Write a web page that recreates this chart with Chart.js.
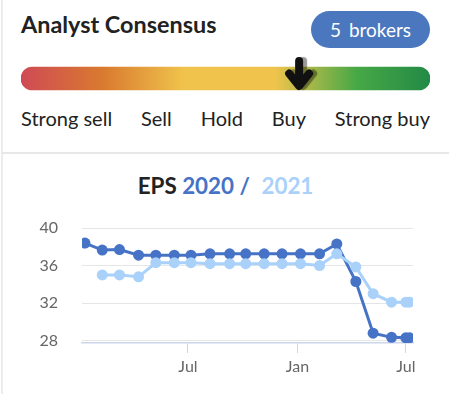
<!DOCTYPE html>
<html>
<head>
<meta charset="utf-8">
<script src="https://cdn.jsdelivr.net/npm/chart.js@4/dist/chart.umd.min.js"></script>
<style>
  body { margin: 0; width: 449px; height: 394px; overflow: hidden; background: #fff; font-family: Lato, sans-serif; color: #222; position: relative; }
  .card { position: absolute; left: 1px; top: 0; width: 470px; height: 394px; border-left: 2px solid #ececec; box-sizing: border-box; }
  .sep { position: absolute; left: 1px; top: 152px; width: 470px; height: 2px; background: #e8e8e8; }
  .head { position: absolute; left: 21px; top: 10px; margin: 0; font-size: 23.4px; font-weight: 700; line-height: 1.2; color: #222; }
  .badge { position: absolute; left: 311px; top: 11px; width: 119px; height: 37px; border-radius: 19px; background: #4b77be; color: #fff; font-size: 19px; line-height: 37px; text-align: center; }
  .badge b { font-weight: 400; margin-right: 8px; }
  #gauge { position: absolute; left: 21px; top: 55px; }
  .labels { position: absolute; left: 21px; top: 106px; width: 409px; display: flex; justify-content: space-between; font-size: 20px; line-height: 24px; color: #222; }
  .title { position: absolute; left: 1px; top: 173px; width: 449px; text-align: center; font-size: 22.4px; font-weight: 700; line-height: 1.2; }
  .title .k { color: #222; }
  .title .a { color: #4673c6; }
  .title .b { color: #a9d1fa; margin-left: 6px; }
  #eps { position: absolute; left: 0; top: 213px; }
</style>
</head>
<body>
<div class="card"></div>
<div class="sep"></div>
<div class="head">Analyst Consensus</div>
<div class="badge" id="badge"></div>
<canvas id="gauge" width="409" height="37"></canvas>
<div class="labels" id="labels"></div>
<div class="title"><span class="k">EPS</span> <span class="a">2020 /</span> <span class="b">2021</span></div>
<canvas id="eps" width="449" height="170"></canvas>

<script>
Chart.defaults.font.family = 'Lato';

// consensus (1 = strong sell, 5 = strong buy)
var consensusLabels = ['Strong sell', 'Sell', 'Hold', 'Buy', 'Strong buy'];
var consensusScore = 3.72;
var brokers = 5;

// EPS estimate history
var dates = ['2019-01-09', '2019-02-07', '2019-03-08', '2019-04-09', '2019-05-08', '2019-06-08',
  '2019-07-06', '2019-08-07', '2019-09-09', '2019-10-06', '2019-11-06', '2019-12-06',
  '2020-01-06', '2020-02-07', '2020-03-07', '2020-04-08', '2020-05-07', '2020-06-07',
  '2020-07-01', '2020-07-07'];
var eps2020 = [38.4, 37.65, 37.7, 37.1, 37.1, 37.1, 37.1, 37.25, 37.25, 37.25, 37.25, 37.25,
  37.25, 37.25, 38.3, 34.3, 28.8, 28.35, 28.3, 28.3];
var eps2021 = [null, 35.0, 35.0, 34.8, 36.3, 36.3, 36.3, 36.2, 36.2, 36.2, 36.2, 36.2,
  36.2, 36.0, 37.25, 35.85, 33.0, 32.1, 32.1, 32.1];
var yTicks = [28, 32, 36, 40];
var xTickDates = ['2019-07-01', '2020-01-01', '2020-07-01'];
var xTickLabels = ['Jul', 'Jan', 'Jul'];

function day(s) {
  return Date.parse(s) / 86400000;
}

// pijl boven de balk
var arrowPlugin = {
  id: 'arrow',
  afterDatasetsDraw: function(chart) {
    var c = chart.ctx;
    var x = chart.scales.x.getPixelForValue(consensusScore);
    c.save();
    c.lineWidth = 8;
    c.lineCap = 'round';
    c.lineJoin = 'round';
    c.strokeStyle = '#111';
    c.shadowColor = 'rgba(0,0,0,0.4)';
    c.shadowOffsetX = 4;
    c.shadowBlur = 1;
    c.beginPath();
    c.moveTo(x, 6);
    c.lineTo(x, 30);
    c.moveTo(x - 10, 18.5);
    c.lineTo(x, 31);
    c.lineTo(x + 10, 18.5);
    c.stroke();
    c.restore();
  }
};

function gauge() {
  var ctx = document.getElementById('gauge');
  new Chart(ctx, {
    type: 'bar',
    data: {
      labels: [''],
      datasets: [{
        data: [[1, 5]],
        backgroundColor: function(c) {
          var a = c.chart.chartArea;
          if (!a) return '#f0c44c';
          var g = c.chart.ctx.createLinearGradient(a.left, 0, a.right, 0);
          g.addColorStop(0, '#cf4a55');
          g.addColorStop(0.2, '#d97a2f');
          g.addColorStop(0.4, '#f0c44c');
          g.addColorStop(0.62, '#f0c44c');
          g.addColorStop(0.82, '#47a846');
          g.addColorStop(1, '#238a46');
          return g;
        },
        borderRadius: 12,
        borderSkipped: false,
        barThickness: 23
      }]
    },
    options: {
      indexAxis: 'y',
      responsive: false,
      animation: false,
      events: [],
      layout: { padding: { top: 10 } },
      scales: {
        x: { display: false, min: 1, max: 5 },
        y: { display: false }
      },
      plugins: { legend: { display: false }, tooltip: { enabled: false } }
    },
    plugins: [arrowPlugin]
  });
}

function eps() {
  var ctx = document.getElementById('eps');
  var xs = dates.map(day);
  new Chart(ctx, {
    type: 'line',
    data: {
      datasets: [{
        label: '2021',
        data: xs.map(function(x, i) { return { x: x, y: eps2021[i] }; }),
        borderColor: '#a9d1fa',
        backgroundColor: '#a9d1fa',
        borderWidth: 3,
        pointRadius: 5.5,
        pointBorderWidth: 0,
        order: 0
      }, {
        label: '2020',
        data: xs.map(function(x, i) { return { x: x, y: eps2020[i] }; }),
        borderColor: '#4673c6',
        backgroundColor: '#4673c6',
        borderWidth: 3,
        pointRadius: 5.5,
        pointBorderWidth: 0,
        order: 1
      }]
    },
    options: {
      responsive: false,
      animation: false,
      events: [],
      layout: { padding: { top: 15, right: 36, bottom: 10, left: 0 } },
      scales: {
        x: {
          type: 'linear',
          min: xs[0] - 5,
          max: xs[xs.length - 1] + 6,
          afterBuildTicks: function(s) {
            s.ticks = xTickDates.map(function(d) { return { value: day(d) }; });
          },
          afterFit: function(s) { s.height = 30; s.paddingLeft = 0; s.paddingRight = 0; },
          ticks: {
            callback: function(v, i) { return xTickLabels[i]; },
            color: '#666',
            font: { size: 16 },
            padding: 4,
            maxRotation: 0,
            autoSkip: false
          },
          grid: { drawOnChartArea: false, tickLength: 10, tickColor: '#ccd6eb' },
          border: { color: '#ccd6eb', width: 1.5 }
        },
        y: {
          min: 27.75,
          max: 40,
          afterBuildTicks: function(s) {
            s.ticks = yTicks.map(function(v) { return { value: v }; });
          },
          afterFit: function(s) { s.width = 82; s.paddingTop = 0; s.paddingBottom = 0; },
          ticks: { color: '#666', font: { size: 16 }, padding: 24 },
          grid: { color: '#e6e6e6', drawTicks: false },
          border: { display: false }
        }
      },
      plugins: { legend: { display: false }, tooltip: { enabled: false } }
    }
  });
}

window.onload = function() {
  document.getElementById('badge').innerHTML = '<b>' + brokers + '</b>brokers';
  document.getElementById('labels').innerHTML = consensusLabels.map(function(l) { return '<span>' + l + '</span>'; }).join('');
  gauge();
  eps();
};
</script>
</body>
</html>
